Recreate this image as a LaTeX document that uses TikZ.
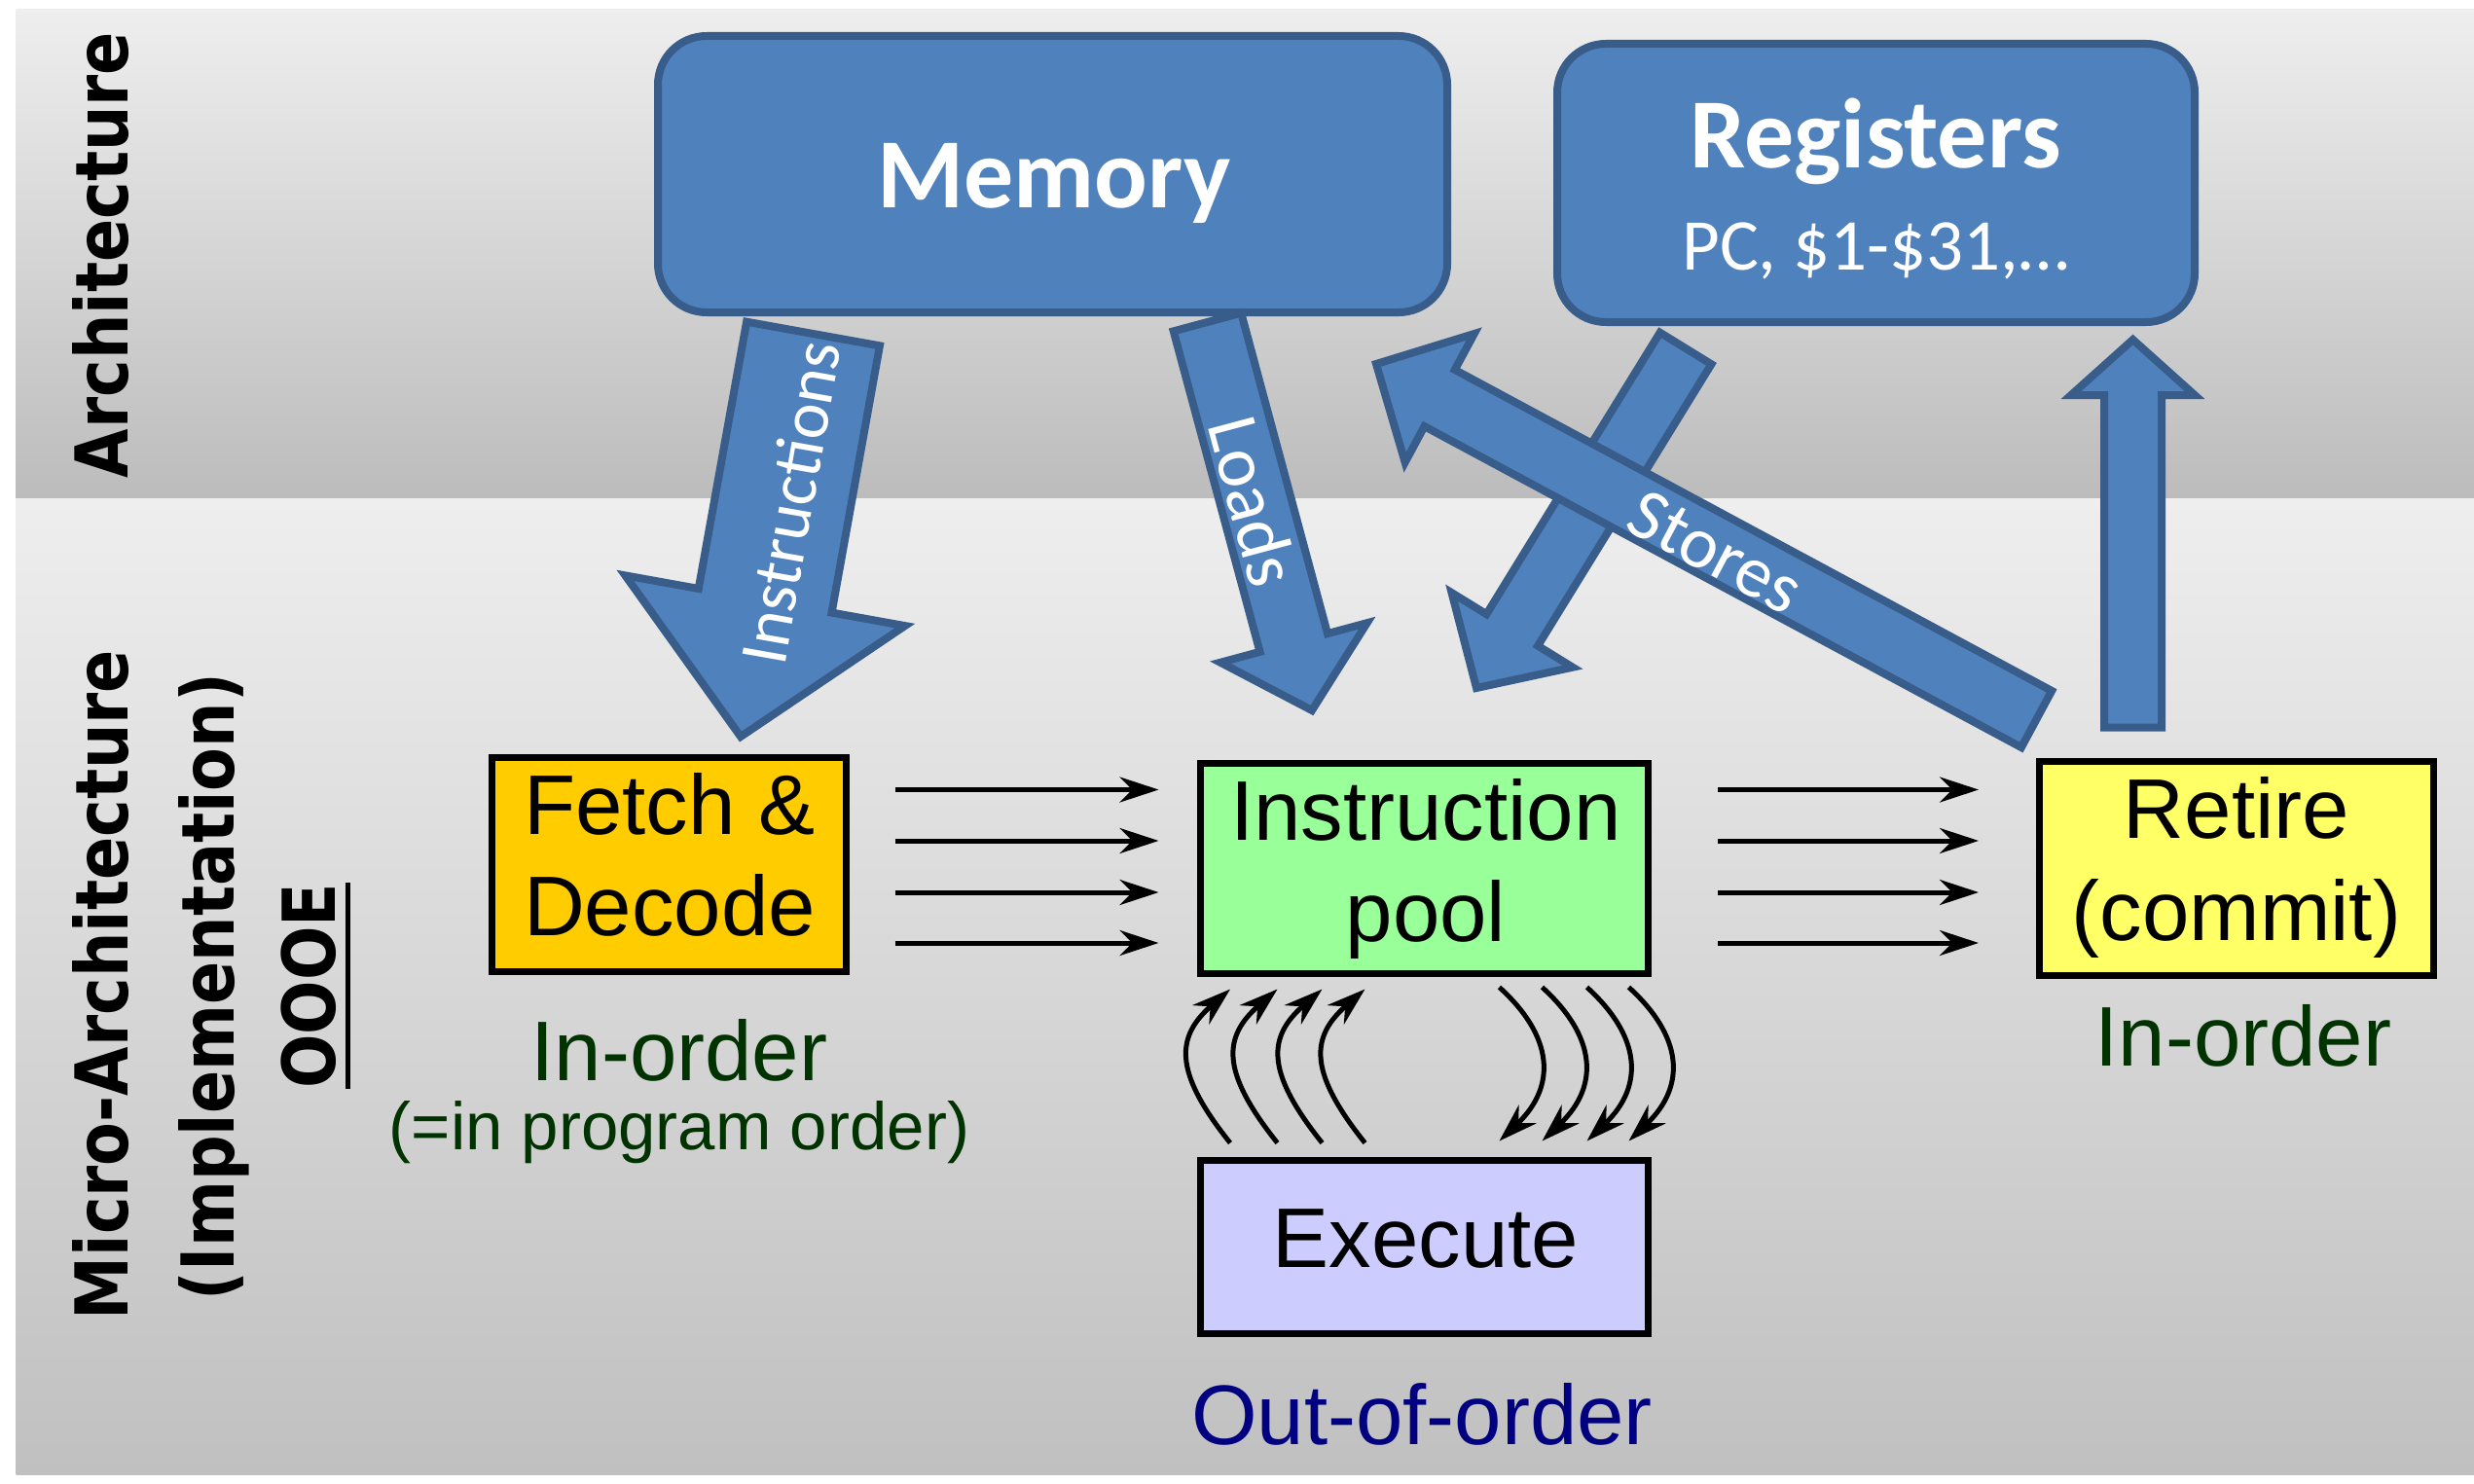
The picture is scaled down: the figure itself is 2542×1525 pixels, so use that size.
\documentclass[tikz,border=0pt]{standalone}
\usepackage{fontspec}
\setmainfont{Liberation Sans}
\newfontfamily\cali{Carlito}
\newfontfamily\vlab{DejaVu Sans}[FakeStretch=0.87]
\usetikzlibrary{calc,arrows.meta}
\definecolor{bfill}{HTML}{4F81BD}
\definecolor{bline}{HTML}{385D8A}
\definecolor{fetchc}{HTML}{FFCC00}
\definecolor{poolc}{HTML}{99FF99}
\definecolor{retirec}{HTML}{FFFF66}
\definecolor{execc}{HTML}{CCCCFF}
\definecolor{ingreen}{HTML}{003300}
\definecolor{outblue}{HTML}{000080}
\definecolor{bgtop}{HTML}{EEEEEE}
\definecolor{bgbot}{HTML}{BCBCBC}
\definecolor{bgbotb}{HTML}{C0C0C0}
\tikzset{
  blockbox/.style={draw=bline, fill=bfill, line width=8pt, rounded corners=50pt, inner sep=0pt, outer sep=0pt},
  stagebox/.style={draw=black, line width=7pt, inner sep=0pt, outer sep=0pt},
  barrow/.style={draw=bline, fill=bfill, line width=8pt, line join=miter},
  flow/.style={line width=5pt, -{Stealth[length=40pt,width=26pt,inset=13pt]}},
  maintxt/.style={font=\fontsize{87pt}{104pt}\selectfont, anchor=base, inner sep=0pt},
  sidetxt/.style={font=\vlab\bfseries\fontsize{75pt}{80pt}\selectfont, anchor=base, inner sep=0pt, rotate=90},
  arrowtxt/.style={font=\cali\fontsize{75pt}{80pt}\selectfont, text=white, inner sep=0pt},
}
% block arrow: #1 tail centre, #2 tip, #3 half shaft width, #4 half head width, #5 head length
\newcommand\blockarrow[5]{%
  \coordinate (ba-b) at ($(#2)!#5pt!(#1)$);
  \draw[barrow] ($(#1)!#3pt!90:(#2)$) -- ($(ba-b)!#3pt!-90:(#1)$) -- ($(ba-b)!#4pt!-90:(#1)$)
     -- (#2) -- ($(ba-b)!#4pt!90:(#1)$) -- ($(ba-b)!#3pt!90:(#1)$) -- ($(#1)!#3pt!-90:(#2)$) -- cycle;
}
\begin{document}
\begin{tikzpicture}[x=1pt, y=-1pt]
\useasboundingbox (0,0) rectangle (2542,1525);
\fill[white] (0,0) rectangle (2542,1525);
\shade[top color=bgtop, bottom color=bgbot] (16.5,10) rectangle (2542,512);
\shade[top color=bgtop, bottom color=bgbotb] (16.5,512) rectangle (2542,1515);

% side labels
\node[sidetxt] (arch) at (131,262) {Architecture};
\node[sidetxt] (micro) at (131,1012) {Micro-Architecture};
\node[sidetxt] (impl) at (240,1014) {(Implementation)};
\node[sidetxt] (oooe) at (344,1013) {OOOE};
\draw[line width=5pt] ([xshift=12.5pt]oooe.south west) -- ([xshift=12.5pt]oooe.south east);

% architecture boxes
\node[blockbox, minimum width=811pt, minimum height=284pt] (memory) at (1081.5,179) {};
\node[blockbox, minimum width=655pt, minimum height=286pt] (registers) at (1927.5,188) {};
\node[font=\cali\bfseries\fontsize{102pt}{110pt}\selectfont, text=white, anchor=base, inner sep=0pt] (memtxt) at (1083,214) {Memory};
\node[font=\cali\bfseries\fontsize{102pt}{110pt}\selectfont, text=white, anchor=base, inner sep=0pt] (regtxt) at (1927,173) {Registers};
\node[font=\cali\fontsize{75pt}{80pt}\selectfont, text=white, anchor=base, inner sep=0pt] (regsub) at (1927,277) {PC, \$1-\$31,…};

% block arrows
\coordinate (instrS) at (835.5,343);
\coordinate (instrT) at (761,757);
\coordinate (loadS) at (1240.5,331);
\coordinate (loadT) at (1348,730);
\coordinate (regS) at (1732,358);
\coordinate (regT) at (1517,707);
\coordinate (storeS) at (2092.5,739);
\coordinate (storeT) at (1414,374);
\coordinate (retS) at (2191.5,747.5);
\coordinate (retT) at (2191.5,349);
\blockarrow{instrS}{instrT}{69.5}{146}{142}
\blockarrow{loadS}{loadT}{36}{78}{72}
\blockarrow{regS}{regT}{31}{73}{70}
\blockarrow{storeS}{storeT}{33}{75}{74}
\blockarrow{retS}{retT}{29.5}{63.5}{57}
\node[arrowtxt, rotate=80, font=\cali\fontsize{70pt}{76pt}\selectfont] (instrlab) at (812,516) {Instructions};
\node[arrowtxt, rotate=-75] (loadlab) at (1288,515) {Loads};
\node[arrowtxt, rotate=-28] (storelab) at (1763,567) {Stores};

% pipeline stages
\node[stagebox, fill=fetchc, minimum width=364pt, minimum height=220pt] (fetch) at (687.5,888.5) {};
\node[stagebox, fill=poolc, minimum width=460pt, minimum height=216pt] (pool) at (1463.5,892.5) {};
\node[stagebox, fill=retirec, minimum width=405pt, minimum height=220pt] (retire) at (2298,892.5) {};
\node[stagebox, fill=execc, minimum width=460pt, minimum height=178pt] (execute) at (1463.5,1281.5) {};

\node[maintxt] (f1) at (688,857) {Fetch \&};
\node[maintxt] (f2) at (688,961) {Decode};
\node[maintxt] (p1) at (1465,863) {Instruction};
\node[maintxt] (p2) at (1465,967) {pool};
\node[maintxt] (r1) at (2298,861) {Retire};
\node[maintxt] (r2) at (2298,966) {(commit)};
\node[maintxt] (e1) at (1465,1302) {Execute};
\node[maintxt, text=ingreen] (io1) at (698,1110) {In-order};
\node[maintxt, text=ingreen, font=\fontsize{69pt}{80pt}\selectfont] (io2) at (698,1181) {(=in program order)};
\node[maintxt, text=ingreen] (io3) at (2305,1095) {In-order};
\node[maintxt, text=outblue] (ooo) at (1461,1484) {Out-of-order};

% flow arrows
\foreach \dy in {-77,-24.5,28.5,80.5}
  \draw[flow] ($(fetch.east)+(50,\dy)$) -- ($(fetch.east -| pool.west)+(-43,\dy)$);
\foreach \dy in {-81,-28.5,24.5,76.5}
  \draw[flow] ($(pool.east)+(71.5,\dy)$) -- ($(pool.east -| retire.west)+(-62.5,\dy)$);
\foreach \a in {30.5,79,125,169}
  \draw[flow] ($(execute.north west)+(\a,-18)$) .. controls +(-60,-75) and +(-55,48) .. ($(pool.south west)+(\a,16)$);
\foreach \b in {307,351,397,440}
  \draw[flow] ($(pool.south west)+(\b,14)$) .. controls +(55,50) and +(60,-57) .. ($(execute.north west)+(\b,-20)$);
\end{tikzpicture}
\end{document}
